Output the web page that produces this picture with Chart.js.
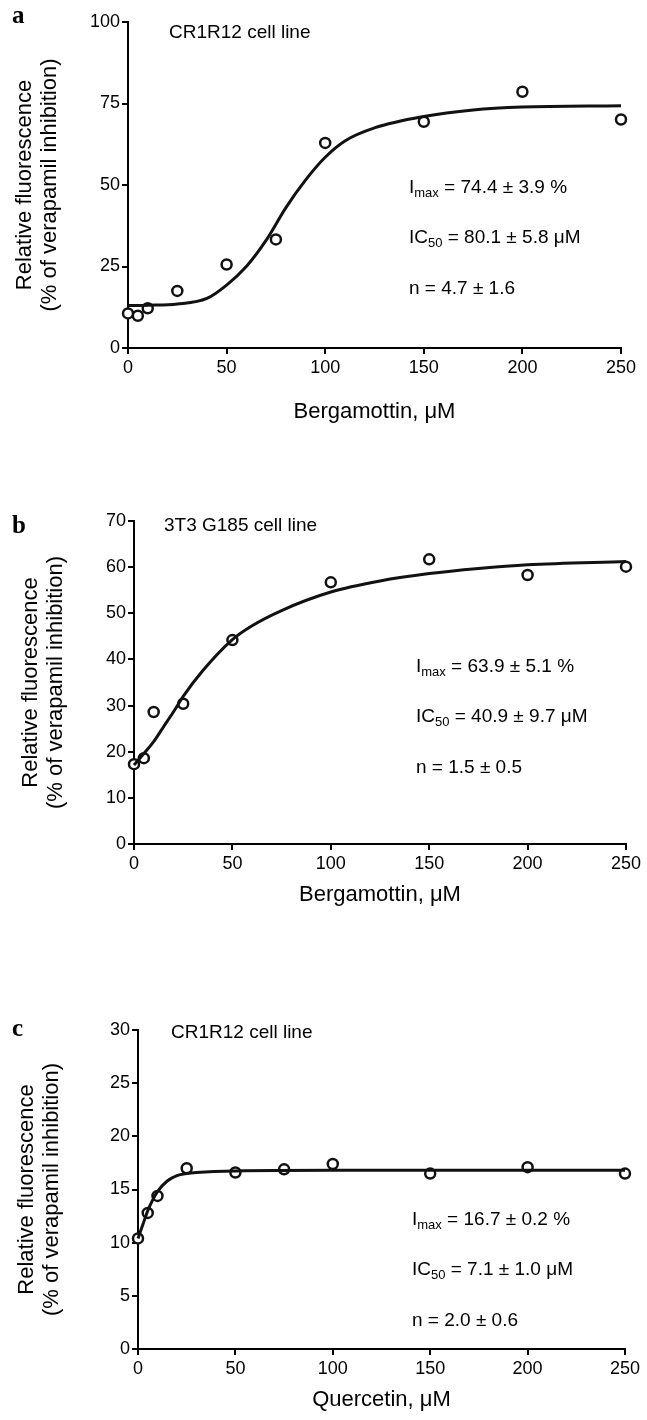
<!DOCTYPE html>
<html>
<head>
<meta charset="utf-8">
<script src="https://cdn.jsdelivr.net/npm/chart.js@4.4.1/dist/chart.umd.min.js"></script>
<style>
  body { margin: 0; background: #fff; }
  #wrap { position: relative; width: 647px; height: 1420px; }
  canvas { position: absolute; left: 0; }
</style>
</head>
<body>
<div id="wrap">
  <canvas id="chartA" width="647" height="430" style="top:0px"></canvas>
  <canvas id="chartB" width="647" height="480" style="top:430px"></canvas>
  <canvas id="chartC" width="647" height="510" style="top:910px"></canvas>
</div>
<script>
// concentrations used in the three experiments
const doseA = [0, 5, 10, 25, 50, 75, 100, 150, 200, 250];
const fluorA = [10.6, 9.9, 12.2, 17.5, 25.6, 33.3, 62.9, 69.4, 78.6, 70.1];
const fitDoseA = [0, 10, 25, 40, 50, 60, 70, 80, 90, 100, 110, 125, 150, 175, 200, 250];
const fitFluorA = [13.0, 13.1, 13.5, 15.2, 19.3, 25.0, 33.0, 43.0, 51.5, 58.5, 63.5, 67.5, 71.0, 73.0, 73.9, 74.3];

const doseB = [0, 5, 10, 25, 50, 100, 150, 200, 250];
const fluorB = [17.3, 18.6, 28.6, 30.4, 44.2, 56.7, 61.7, 58.3, 60.1];
const fitDoseB = [0, 5, 10, 15, 20, 25, 35, 50, 60, 75, 100, 125, 150, 175, 200, 250];
const fitFluorB = [17.1, 19.6, 22.2, 25.4, 28.6, 32.0, 37.6, 44.3, 47.3, 50.6, 54.6, 57.0, 58.6, 59.7, 60.5, 61.2];

const doseC = [0, 5, 10, 25, 50, 75, 100, 150, 200, 250];
const fluorC = [10.4, 12.8, 14.4, 17.0, 16.6, 16.9, 17.4, 16.5, 17.1, 16.5];
const fitDoseC = [0, 2.5, 5, 7.5, 10, 15, 20, 25, 30, 50, 100, 150, 200, 250];
const fitFluorC = [10.4, 11.7, 13.0, 14.0, 14.8, 15.8, 16.3, 16.5, 16.6, 16.75, 16.8, 16.8, 16.8, 16.8];

const xTicks = [0, 50, 100, 150, 200, 250];

const SANS = '"Liberation Sans", Arial, Helvetica, sans-serif';
const SERIF = '"Liberation Serif", "Times New Roman", serif';

Chart.defaults.font.family = SANS;
Chart.defaults.color = '#000';

function toXY(xs, ys) {
  return xs.map((x, i) => ({ x: x, y: ys[i] }));
}

// draws panel letter, cell line label and fit results
const panelText = {
  id: 'panelText',
  afterDraw(chart, args, opts) {
    const ctx = chart.ctx;
    ctx.save();
    ctx.fillStyle = '#000';
    ctx.textBaseline = 'middle';
    ctx.textAlign = 'left';
    (opts.items || []).forEach(item => {
      let x = item.x;
      item.parts.forEach(p => {
        ctx.font = p.font;
        ctx.fillText(p.text, x, item.y + (p.dy || 0));
        x += ctx.measureText(p.text).width;
      });
    });
    ctx.restore();
  }
};

function txt(text, size) { return { text: text, font: size + 'px ' + SANS }; }
function sub(text) { return { text: text, font: '13px ' + SANS, dy: 5 }; }

function fitLines(x, y, imax, ic50, n) {
  return [
    { x: x, y: y, parts: [txt('I', 19), sub('max'), txt(' = ' + imax + ' %', 19)] },
    { x: x, y: y + 50, parts: [txt('IC', 19), sub('50'), txt(' = ' + ic50 + ' \u03bcM', 19)] },
    { x: x, y: y + 101, parts: [txt('n = ' + n, 19)] }
  ];
}

function makePanel(id, p) {
  new Chart(document.getElementById(id), {
    type: 'scatter',
    data: {
      datasets: [
        {
          data: toXY(p.fitX, p.fitY),
          showLine: true,
          borderColor: '#111',
          borderWidth: 3,
          pointRadius: 0,
          cubicInterpolationMode: 'monotone',
          fill: false,
          clip: false
        },
        {
          data: toXY(p.x, p.y),
          showLine: false,
          pointRadius: 5,
          pointBorderWidth: 2.5,
          pointBorderColor: '#111',
          pointBackgroundColor: '#fff',
          clip: false
        }
      ]
    },
    options: {
      responsive: false,
      animation: false,
      events: [],
      layout: { padding: { top: p.padTop, right: p.padRight, left: 0, bottom: 0 } },
      plugins: {
        legend: { display: false },
        tooltip: { enabled: false },
        panelText: { items: p.items }
      },
      scales: {
        x: {
          type: 'linear',
          min: 0,
          max: 250,
          afterFit(scale) { scale.height = p.xHeight; },
          afterBuildTicks(scale) { scale.ticks = xTicks.map(v => ({ value: v })); },
          border: { display: true, color: '#000', width: 2 },
          grid: { drawOnChartArea: false, drawTicks: true, tickLength: 6, color: '#000', lineWidth: 2 },
          ticks: { font: { size: 18 }, padding: 3, maxRotation: 0 },
          title: {
            display: true,
            text: p.xTitle,
            font: { size: 22, lineHeight: 1.15 },
            padding: { top: 0, bottom: p.xTitlePad }
          }
        },
        y: {
          min: 0,
          max: p.yMax,
          afterFit(scale) { scale.width = p.yWidth; },
          border: { display: true, color: '#000', width: 2 },
          grid: { drawOnChartArea: false, drawTicks: true, tickLength: 6, color: '#000', lineWidth: 2 },
          ticks: { stepSize: p.yStep, font: { size: 18 }, padding: 2 },
          title: {
            display: true,
            text: ['Relative fluorescence', '(% of verapamil inhibition)'],
            font: { size: 22, lineHeight: 1.15 },
            padding: { top: p.yTitlePad, bottom: 0 }
          }
        }
      }
    },
    plugins: [panelText]
  });
}

makePanel('chartA', {
  x: doseA, y: fluorA, fitX: fitDoseA, fitY: fitFluorA,
  yMax: 100, yStep: 25, xTitle: 'Bergamottin, \u03bcM',
  padTop: 22, padRight: 26, yWidth: 128, xHeight: 82, xTitlePad: 5, yTitlePad: 12,
  items: [
    { x: 12, y: 17, parts: [{ text: 'a', font: 'bold 25px ' + SERIF }] },
    { x: 169, y: 33, parts: [txt('CR1R12 cell line', 19)] }
  ].concat(fitLines(409, 188, '74.4 \u00b1 3.9', '80.1 \u00b1 5.8', '4.7 \u00b1 1.6'))
});

makePanel('chartB', {
  x: doseB, y: fluorB, fitX: fitDoseB, fitY: fitFluorB,
  yMax: 70, yStep: 10, xTitle: 'Bergamottin, \u03bcM',
  padTop: 91, padRight: 21, yWidth: 134, xHeight: 66, xTitlePad: 2, yTitlePad: 18,
  items: [
    { x: 12, y: 97, parts: [{ text: 'b', font: 'bold 25px ' + SERIF }] },
    { x: 164, y: 96, parts: [txt('3T3 G185 cell line', 19)] }
  ].concat(fitLines(416, 237, '63.9 \u00b1 5.1', '40.9 \u00b1 9.7', '1.5 \u00b1 0.5'))
});

makePanel('chartC', {
  x: doseC, y: fluorC, fitX: fitDoseC, fitY: fitFluorC,
  yMax: 30, yStep: 5, xTitle: 'Quercetin, \u03bcM',
  padTop: 120, padRight: 22, yWidth: 138, xHeight: 71, xTitlePad: 7, yTitlePad: 14,
  items: [
    { x: 12, y: 120, parts: [{ text: 'c', font: 'bold 25px ' + SERIF }] },
    { x: 171, y: 123, parts: [txt('CR1R12 cell line', 19)] }
  ].concat(fitLines(412, 310, '16.7 \u00b1 0.2', '7.1 \u00b1 1.0', '2.0 \u00b1 0.6'))
});
</script>
</body>
</html>
